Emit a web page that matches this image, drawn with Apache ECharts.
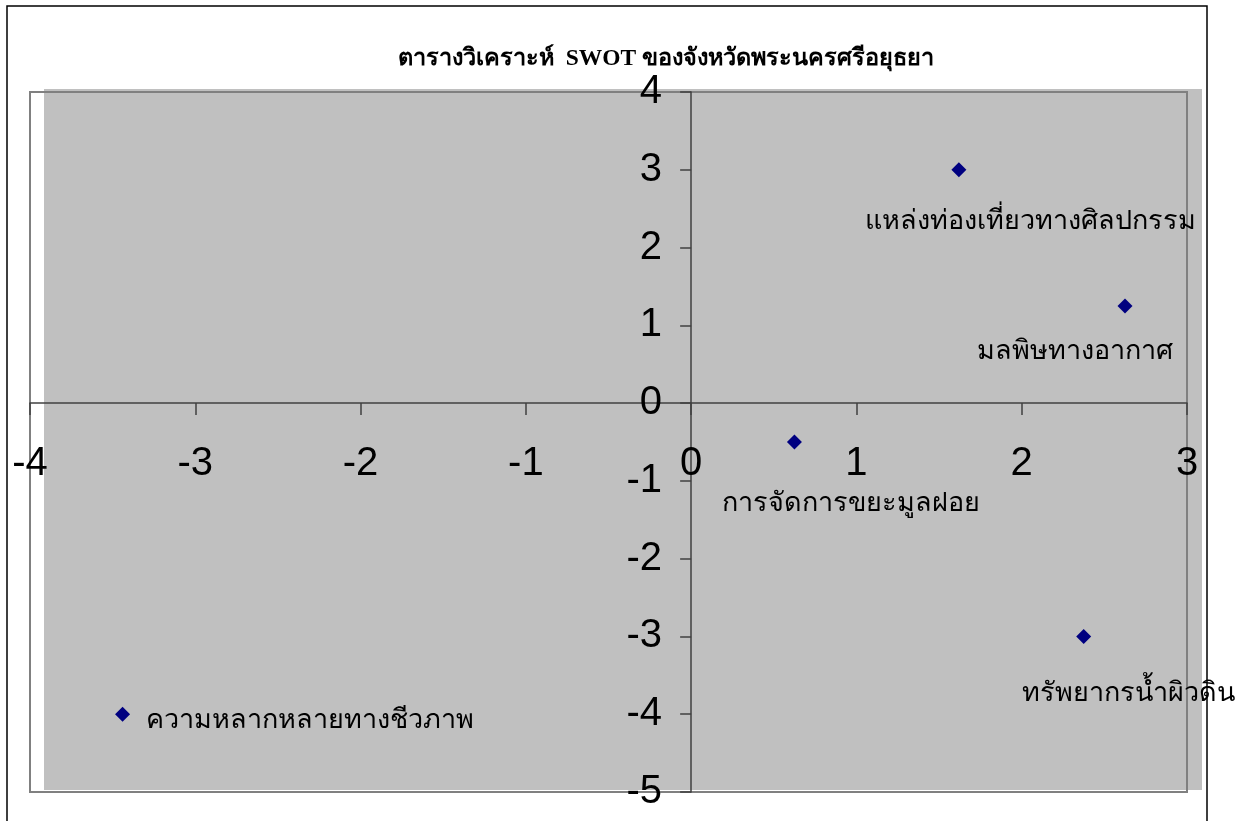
<!DOCTYPE html>
<html>
<head>
<meta charset="utf-8">
<script src="https://cdn.jsdelivr.net/npm/echarts@6/dist/echarts.min.js"></script>
<style>
html,body{margin:0;padding:0;background:#fff;}
#c{width:1236px;height:821px;}
</style>
</head>
<body>
<div id="c"></div>
<script>
const titleText = 'ตารางวิเคราะห์  SWOT ของจังหวัดพระนครศรีอยุธยา';
const pointNames = ['แหล่งท่องเที่ยวทางศิลปกรรม', 'มลพิษทางอากาศ', 'การจัดการขยะมูลฝอย', 'ทรัพยากรน้ำผิวดิน', 'ความหลากหลายทางชีวภาพ'];
const xValues = [1.62, 2.625, 0.625, 2.375, -3.44];
const yValues = [3, 1.25, -0.5, -3, -4];

const labelOffsets = [[72, 52], [-50, 46], [57, 62], [45, 57], [23, 7]];
const labelAligns = ['center', 'center', 'center', 'center', 'left'];

const thaiFont = '"Liberation Serif", "DejaVu Serif", serif';

const data = pointNames.map((n, i) => ({
  name: n,
  value: [xValues[i], yValues[i]],
  label: {
    show: true,
    formatter: n,
    position: 'inside',
    align: labelAligns[i],
    verticalAlign: 'middle',
    offset: labelOffsets[i]
  }
}));

const chart = echarts.init(document.getElementById('c'), null, {renderer: 'canvas'});
chart.setOption({
  animation: false,
  backgroundColor: '#fff',
  title: {
    text: titleText,
    left: 661,
    textAlign: 'center',
    top: 42,
    textStyle: {fontFamily: thaiFont, fontWeight: 'bold', fontSize: 23.5, color: '#000'}
  },
  graphic: [
    {type: 'rect', z: -10, shape: {x: 7, y: 6, width: 1200, height: 840}, style: {fill: '#fff', stroke: '#000', lineWidth: 1.5}},
    {type: 'rect', z: -9, shape: {x: 44, y: 89, width: 1158, height: 701}, style: {fill: '#C0C0C0'}}
  ],
  grid: {
    left: 30, top: 92, width: 1157, height: 700,
    containLabel: false, outerBoundsMode: 'none',
    show: true, borderColor: '#808080', borderWidth: 2, backgroundColor: 'transparent'
  },
  xAxis: {
    type: 'value', min: -4, max: 3, interval: 1,
    splitLine: {show: false},
    axisLine: {onZero: true, lineStyle: {color: '#404040', width: 1.5}},
    axisTick: {show: true, inside: false, length: 12, lineStyle: {color: '#404040', width: 1.5}},
    axisLabel: {margin: -348, fontSize: 40, fontFamily: 'Liberation Sans, Arial, sans-serif', color: '#000'}
  },
  yAxis: {
    type: 'value', min: -5, max: 4, interval: 1,
    splitLine: {show: false},
    axisLine: {onZero: true, lineStyle: {color: '#404040', width: 1.5}},
    axisTick: {show: true, inside: false, length: 11, lineStyle: {color: '#404040', width: 1.5}},
    axisLabel: {margin: -632, fontSize: 40, fontFamily: 'Liberation Sans, Arial, sans-serif', color: '#000'}
  },
  series: [{
    type: 'scatter',
    symbol: 'diamond',
    symbolSize: 15,
    itemStyle: {color: '#000080', opacity: 1},
    label: {fontFamily: thaiFont, fontSize: 27, color: '#000'},
    data: data
  }]
});
</script>
</body>
</html>
